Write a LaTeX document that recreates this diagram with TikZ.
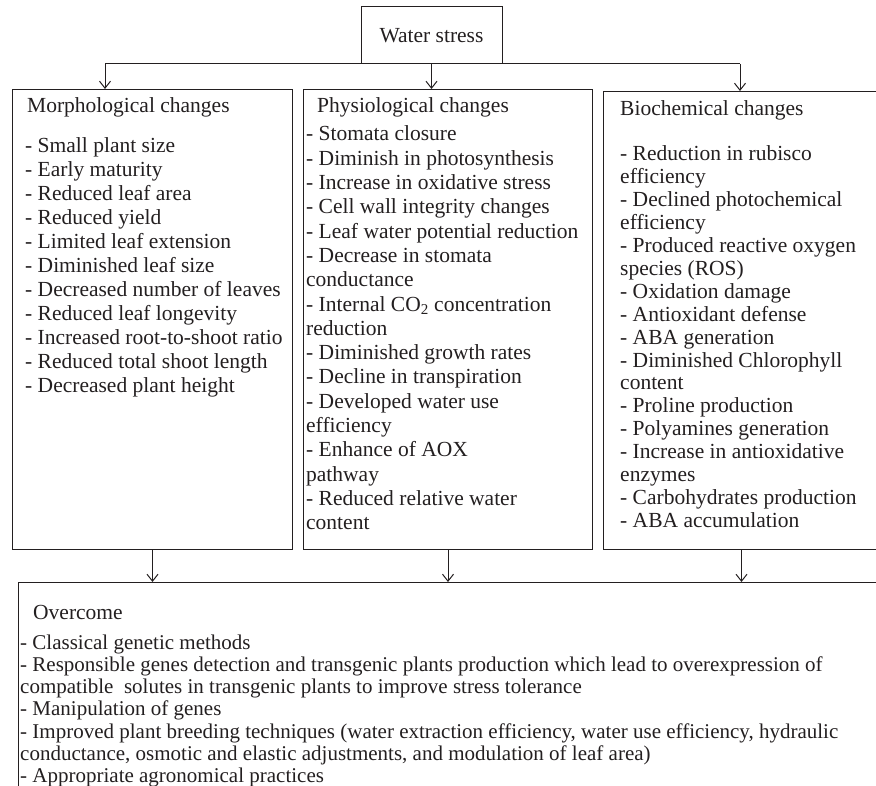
\documentclass[tikz,border=0pt]{standalone}
\usepackage{fontspec}
\setmainfont{Liberation Serif}
\usetikzlibrary{arrows.meta}
\definecolor{ink}{RGB}{35,31,32}
\tikzstyle{frame}=[rectangle, draw=ink, line width=1pt, anchor=north west, inner sep=0pt]
\tikzstyle{txt}=[anchor=base west, inner sep=0pt, text=ink, font=\fontsize{21.5}{24}\selectfont]
\tikzstyle{link}=[draw=ink, line width=1pt, -{Straight Barb[length=7pt,width=11pt]}]

\begin{document}
\begin{tikzpicture}[x=1pt,y=-1pt]
  \clip (0,0) rectangle (876,786);
  \node[frame, anchor=center, minimum width=141pt, minimum height=57pt,
        text=ink, font=\fontsize{21.5}{24}\selectfont] (ws) at (431.5,35.5) {Water stress};
  \node[frame, minimum width=280pt, minimum height=460pt] (morph) at (12,89) {};
  \node[frame, minimum width=289pt, minimum height=460pt] (phys) at (303,89) {};
  \node[frame, minimum width=276pt, minimum height=458pt] (bio) at (603,91) {};
  \node[frame, minimum width=880pt, minimum height=230pt] (over) at (18,582) {};

  % titles and lists
  \node[txt] (morphT) at (27,113) {Morphological changes};
  \node[txt] (morphL) at (25,153) {\parbox[t]{400pt}{\raggedright
    - Small plant size\\
    - Early maturity\\
    - Reduced leaf area\\
    - Reduced yield\\
    - Limited leaf extension\\
    - Diminished leaf size\\
    - Decreased number of leaves\\
    - Reduced leaf longevity\\
    - Increased root-to-shoot ratio\\
    - Reduced total shoot length\\
    - Decreased plant height}};
  \node[txt] (physT) at (317,113) {Physiological changes};
  \node[txt, font=\fontsize{21.5}{24.3}\selectfont] (physL) at (306,141) {\parbox[t]{400pt}{\raggedright
    - Stomata closure\\
    - Diminish in photosynthesis\\
    - Increase in oxidative stress\\
    - Cell wall integrity changes\\
    - Leaf water potential reduction\\
    - Decrease in stomata\\
    conductance\\
    - Internal CO\textsubscript{2} concentration\\
    reduction\\
    - Diminished growth rates\\
    - Decline in transpiration\\
    - Developed water use\\
    efficiency\\
    - Enhance of AOX\\
    pathway\\
    - Reduced relative water\\
    content}};
  \node[txt] (bioT) at (620,116) {Biochemical changes};
  \node[txt, font=\fontsize{21.5}{22.9}\selectfont] (bioL) at (620,161) {\parbox[t]{400pt}{\raggedright
    - Reduction in rubisco\\
    efficiency\\
    - Declined photochemical\\
    efficiency\\
    - Produced reactive oxygen\\
    species (ROS)\\
    - Oxidation damage\\
    - Antioxidant defense\\
    - ABA generation\\
    - Diminished Chlorophyll\\
    content\\
    - Proline production\\
    - Polyamines generation\\
    - Increase in antioxidative\\
    enzymes\\
    - Carbohydrates production\\
    - ABA accumulation}};
  \node[txt] (overT) at (33,619) {Overcome};
  \node[txt, font=\fontsize{21}{22.3}\selectfont] (overL) at (20,649) {\parbox[t]{900pt}{\raggedright
    - Classical genetic methods\\
    - Responsible genes detection and transgenic plants production which lead to overexpression of\\
    compatible~ solutes in transgenic plants to improve stress tolerance\\
    - Manipulation of genes\\
    - Improved plant breeding techniques (water extraction efficiency, water use efficiency, hydraulic\\
    conductance, osmotic and elastic adjustments, and modulation of leaf area)\\
    - Appropriate agronomical practices}};

  \coordinate (bl) at (105,64);
  \coordinate (br) at (740,64);
  \draw[ink, line width=1pt] (bl) -- (br);
  \draw[link] (bl) -- (bl |- morph.north);
  \draw[link] (ws.south) -- (ws.south |- phys.north);
  \draw[link] (br) -- (br |- bio.north);
  \draw[link] (morph.south) -- (morph.south |- over.north);
  \draw[link] (phys.south) -- (phys.south |- over.north);
  \draw[link] (bio.south) -- (bio.south |- over.north);
\end{tikzpicture}
\end{document}
